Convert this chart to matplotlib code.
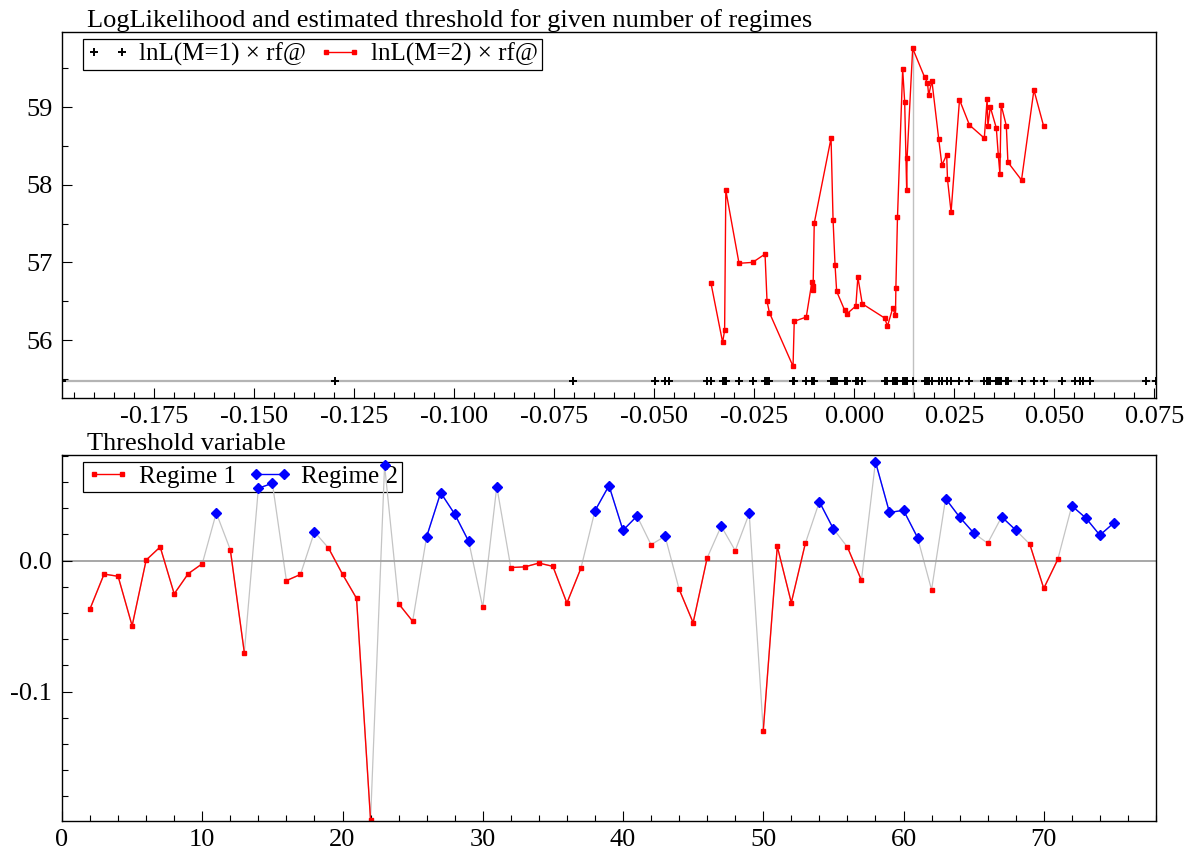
import numpy as np
import matplotlib.pyplot as plt
from matplotlib.ticker import MultipleLocator, FormatStrFormatter

plt.rcParams['font.family'] = ['Liberation Serif', 'DejaVu Serif']
plt.rcParams['axes.unicode_minus'] = False

# threshold variable, observations 2..75
obs = np.arange(2, 76)
thresh = np.array([
    -0.0368, -0.0103, -0.0120, -0.0498, 0.0004, 0.0104, -0.0254, -0.0100, -0.0024,   # 2-10
    0.0364, 0.0083, -0.0703, 0.0552, 0.0590, -0.0153, -0.0106, 0.0219, 0.0096, -0.0104,  # 11-20
    -0.0288, -0.1980, 0.0728, -0.0329, -0.0463, 0.0183, 0.0518, 0.0355, 0.0146, -0.0358,  # 21-30
    0.0565, -0.0053, -0.0048, -0.0019, -0.0044, -0.0324, -0.0058, 0.0380, 0.0572, 0.0231,  # 31-40
    0.0340, 0.0121, 0.0186, -0.0218, -0.0474, 0.0020, 0.0263, 0.0076, 0.0360, -0.1298,  # 41-50
    0.0108, -0.0321, 0.0131, 0.0449, 0.0242, 0.0103, -0.0150, 0.0754, 0.0367, 0.0384,  # 51-60
    0.0176, -0.0223, 0.0473, 0.0332, 0.0211, 0.0132, 0.0334, 0.0233, 0.0126, -0.0212,  # 61-70
    0.0009, 0.0418, 0.0325, 0.0194, 0.0288,  # 71-75
])

# log-likelihood with one regime
lnL1 = 55.47
# log-likelihood with two regimes for each candidate threshold (sorted, 7 trimmed each side)
trim = 7
lnL2 = np.array([
    56.730, 55.971, 56.125, 57.928, 56.988, 57.000, 57.107, 56.498, 56.352, 55.662,
    56.241, 56.296, 56.743, 56.700, 56.644, 57.506, 58.601, 57.549, 56.962, 56.627,
    56.383, 56.335, 56.438, 56.811, 56.467, 56.283, 56.180, 56.408, 56.322, 56.670,
    57.580, 59.485, 59.068, 57.928, 58.343, 59.756, 59.382, 59.313, 59.151, 59.339,
    58.592, 58.253, 58.386, 58.069, 57.648, 59.094, 58.768, 58.600, 59.100, 58.760,
    59.000, 58.730, 58.380, 58.140, 59.030, 58.760, 58.290, 58.060, 59.220, 58.760,
])

xs = np.sort(thresh)
cand = xs[trim:len(xs) - trim]
gamma = cand[np.argmax(lnL2)]

reg2 = thresh >= gamma
r1 = np.where(~reg2, thresh, np.nan)
r2 = np.where(reg2, thresh, np.nan)

fig = plt.figure(figsize=(12.04, 8.57), dpi=100)
ax1 = fig.add_axes([0.0515, 0.5359, 0.9086, 0.4267])
ax2 = fig.add_axes([0.0515, 0.0424, 0.9086, 0.4267])

# ---- top panel: log-likelihood vs threshold
ax1.axhline(lnL1, color='#b4b4b4', lw=1.6, zorder=1)
ax1.vlines(gamma, 55.257, lnL2.max(), color='#c0c0c0', lw=1.0, zorder=1)
ax1.plot(xs, np.full(len(xs), lnL1), linestyle='none', marker='+', color='black',
         ms=6, mew=1.4, label='lnL(M=1) × rf@', zorder=3)
ax1.plot(cand, lnL2, color='red', lw=1.0, marker='s', ms=2.6, label='lnL(M=2) × rf@', zorder=2)
ax1.set_xlim(xs.min(), xs.max())
ax1.set_ylim(55.257, 59.966)
ax1.xaxis.set_major_locator(MultipleLocator(0.025))
ax1.xaxis.set_minor_locator(MultipleLocator(0.005))
ax1.xaxis.set_major_formatter(FormatStrFormatter('%.3f'))
ax1.yaxis.set_major_locator(MultipleLocator(1))
ax1.yaxis.set_minor_locator(MultipleLocator(0.5))
ax1.yaxis.set_major_formatter(FormatStrFormatter('%d'))
ax1.text(0.023, 1.0, 'LogLikelihood and estimated threshold for given number of regimes',
         transform=ax1.transAxes, fontsize=19, va='bottom')

# ---- bottom panel: threshold variable by regime
ax2.plot(obs, thresh, color='#c4c4c4', lw=0.9, zorder=1)
ax2.axhline(0, color='#a0a0a0', lw=1.3, zorder=1)
ax2.plot(obs, r1, color='red', lw=1.0, marker='s', ms=2.6, label='Regime 1', zorder=2)
ax2.plot(obs, r2, color='blue', lw=1.0, marker='D', ms=5.5, label='Regime 2', zorder=3)
ax2.set_xlim(0, 78)
ax2.set_ylim(-0.1985, 0.0806)
ax2.xaxis.set_major_locator(MultipleLocator(10))
ax2.xaxis.set_minor_locator(MultipleLocator(2))
ax2.yaxis.set_major_locator(MultipleLocator(0.1))
ax2.yaxis.set_minor_locator(MultipleLocator(0.02))
ax2.yaxis.set_major_formatter(FormatStrFormatter('%.1f'))
ax2.text(0.023, 1.0, 'Threshold variable', transform=ax2.transAxes, fontsize=19, va='bottom')

for ax in (ax1, ax2):
    for s in ax.spines.values():
        s.set_linewidth(1.0)
    ax.tick_params(which='both', direction='in', top=False, right=False, labelsize=19, width=0.8)
    ax.tick_params(which='major', length=7.5)
    ax.tick_params(which='minor', length=4)
    ax.tick_params(axis='x', pad=6)
    ax.tick_params(axis='y', pad=7)
    leg = ax.legend(loc='upper left', bbox_to_anchor=(21 / 1094, 1 - 7 / 365.7), borderaxespad=0,
                    ncol=2, fontsize=18, numpoints=2, handlelength=1.7, handletextpad=0.4,
                    columnspacing=0.5, borderpad=0.15, fancybox=False, framealpha=1)
    leg.get_frame().set_edgecolor('black')
    leg.get_frame().set_linewidth(0.9)
    leg.set_zorder(0.9)

fig.savefig('out.png', dpi=100)
